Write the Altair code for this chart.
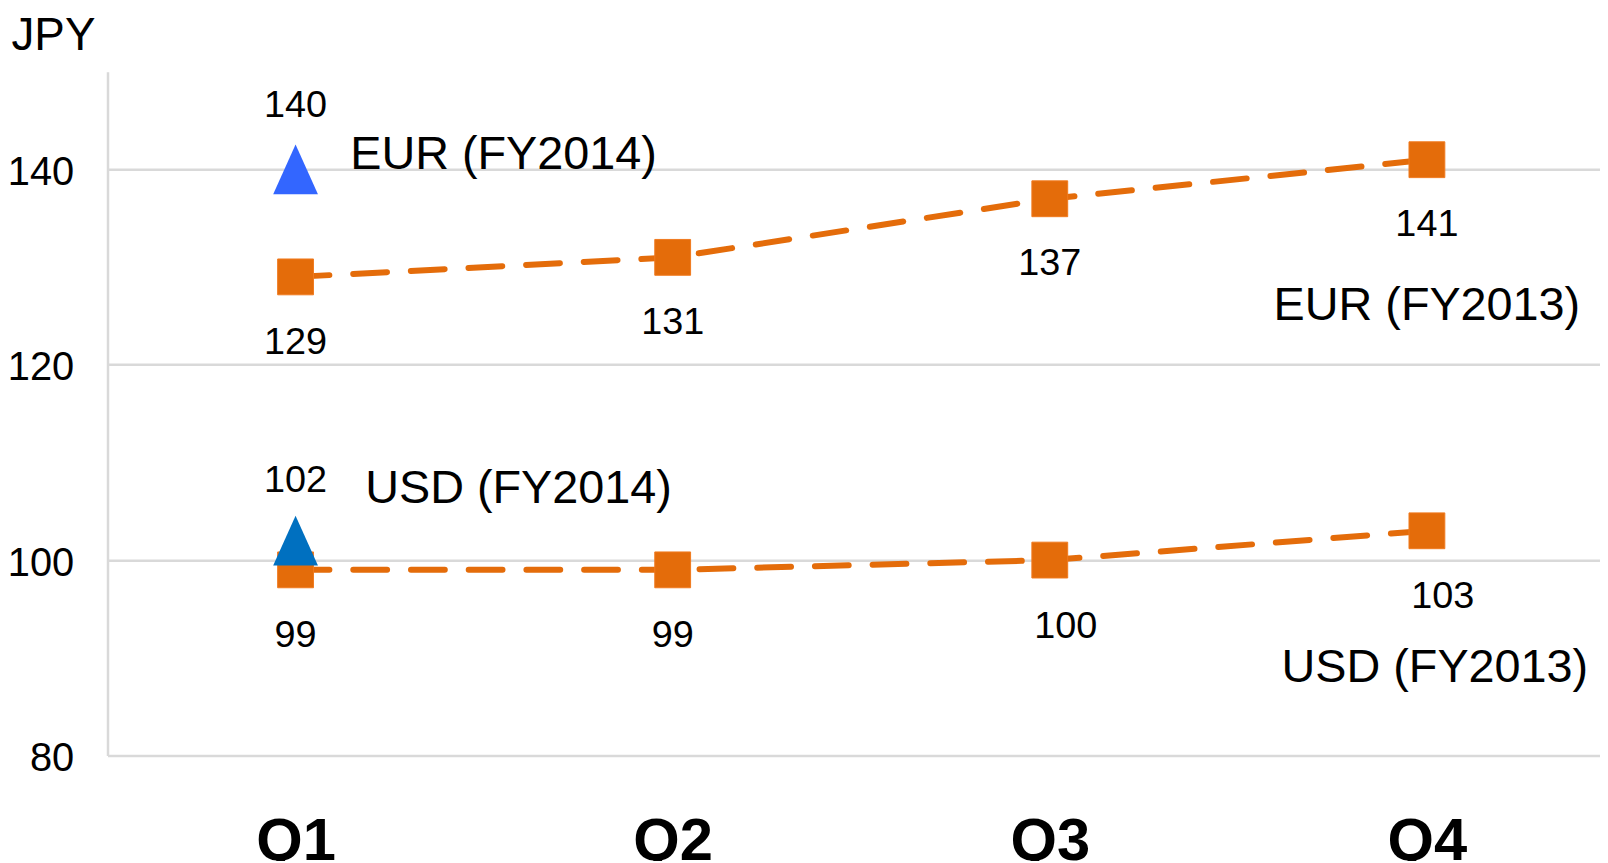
import altair as alt
import pandas as pd

quarters = ["Q1", "Q2", "Q3", "Q4"]
eur_fy2013 = [129, 131, 137, 141]
usd_fy2013 = [99, 99, 100, 103]
fy2014_quarters = ["Q1"]
eur_fy2014 = [140]
usd_fy2014 = [102]
y_ticks = [80, 100, 120, 140]

df13 = pd.DataFrame({
    "quarter": quarters * 2,
    "value": eur_fy2013 + usd_fy2013,
    "series": ["EUR (FY2013)"] * 4 + ["USD (FY2013)"] * 4,
})
df14 = pd.DataFrame({
    "quarter": fy2014_quarters * 2,
    "value": eur_fy2014 + usd_fy2014,
    "series": ["EUR (FY2014)", "USD (FY2014)"],
})

SANS = "Liberation Sans, Arial, sans-serif"
ORANGE = "#E46C0A"
qlist = "[" + ",".join("'%s'" % q for q in quarters) + "]"

x = alt.X(
    "qi:Q",
    scale=alt.Scale(domain=[-0.4987, 3.459], nice=False, zero=False),
    axis=alt.Axis(title=None, values=list(range(len(quarters))),
                  labelExpr=qlist + "[datum.value]",
                  labelAngle=0, domain=False, ticks=False, grid=False,
                  labelFont=SANS, labelFontSize=60, labelFontWeight="bold",
                  labelBaseline="top", labelPadding=58, labelColor="black"),
)
y = alt.Y(
    "value:Q",
    scale=alt.Scale(domain=[80, 150], nice=False, zero=False),
    axis=alt.Axis(values=y_ticks, title="JPY", titleAngle=0, titleX=-97, titleY=-22,
                  titleAlign="left", titleBaseline="alphabetic", titleFont=SANS,
                  titleFontSize=46, titleFontWeight="normal", titleColor="black",
                  labelFont=SANS, labelFontSize=40, labelColor="black",
                  labelPadding=34, labelOffset=3, ticks=False,
                  domainColor="#d9d9d9", domainWidth=2.5,
                  gridColor="#d9d9d9", gridWidth=2.5),
)

calc = "indexof(" + qlist + ", datum.quarter)"
b13 = alt.Chart(df13).transform_calculate(qi=calc).encode(x=x, y=y)
b14 = alt.Chart(df14).transform_calculate(qi=calc).encode(x=x, y=y)

lines = b13.mark_line(color=ORANGE, strokeWidth=6, strokeDash=[34, 24], strokeCap="round").encode(
    detail="series:N")
squares = b13.mark_point(shape="square", filled=True, size=1296, color=ORANGE, opacity=1,
                         stroke="#F07A1E", strokeWidth=1)
triangles = b14.mark_point(shape="M0,-1L0.9,1L-0.9,1Z", filled=True, size=2500, opacity=1).encode(
    color=alt.Color("series:N", scale=alt.Scale(domain=["EUR (FY2014)", "USD (FY2014)"],
                                                range=["#3366FF", "#0070C0"]), legend=None))

def lab(base, cond, **kw):
    return base.transform_filter(cond).mark_text(font=SANS, fontSize=38, color="black",
                                                 baseline="middle", **kw).encode(text="value:Q")

eur13_labels = lab(b13, "datum.series == 'EUR (FY2013)'", dy=66)
usd13_labels_a = lab(b13, "datum.series == 'USD (FY2013)' && (datum.quarter == 'Q1' || datum.quarter == 'Q2')", dy=67)
usd13_labels_b = lab(b13, "datum.series == 'USD (FY2013)' && (datum.quarter == 'Q3' || datum.quarter == 'Q4')", dy=67, dx=16)
eur14_labels = lab(b14, "datum.series == 'EUR (FY2014)'", dy=-64)
usd14_labels = lab(b14, "datum.series == 'USD (FY2014)'", dy=-60)

def name(base, cond, **kw):
    return base.transform_filter(cond).mark_text(font=SANS, fontSize=47, color="black",
                                                 baseline="middle", **kw).encode(text="series:N")

eur14_name = name(b14, "datum.series == 'EUR (FY2014)'", align="left", dx=55, dy=-14)
usd14_name = name(b14, "datum.series == 'USD (FY2014)'", align="left", dx=70, dy=-52)
eur13_name = name(b13, "datum.series == 'EUR (FY2013)' && datum.quarter == 'Q4'", align="center", dx=0, dy=147)
usd13_name = name(b13, "datum.series == 'USD (FY2013)' && datum.quarter == 'Q4'", align="center", dx=8, dy=138)

chart = alt.layer(
    lines, squares, triangles,
    eur13_labels, usd13_labels_a, usd13_labels_b, eur14_labels, usd14_labels,
    eur14_name, usd14_name, eur13_name, usd13_name,
).properties(
    width=1500, height=687,
    padding={"left": 100, "top": 62, "right": 0, "bottom": 104},
    autosize=alt.AutoSizeParams(type="none"),
).configure_view(stroke=None)

chart.save("out.html", embed_options={"renderer": "svg", "actions": False})
